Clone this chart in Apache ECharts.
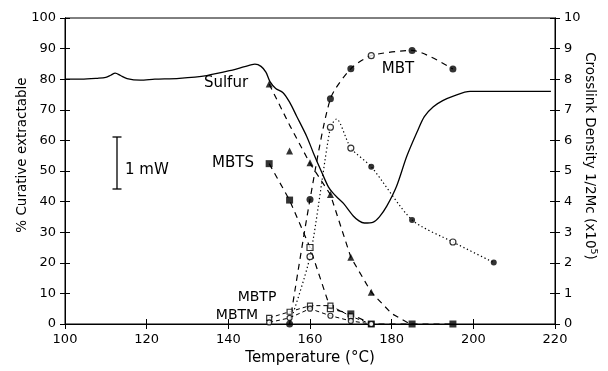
<!DOCTYPE html>
<html>
<head>
<meta charset="utf-8">
<script src="https://cdn.jsdelivr.net/npm/echarts@6/dist/echarts.min.js"></script>
<style>html,body{margin:0;padding:0;background:#fff}#c{width:608px;height:371px}</style>
</head>
<body>
<div id="c"></div>
<script>
// ---- data (temperature °C, value) ----
const xTicks = [100, 120, 140, 160, 180, 200, 220];
const leftTicks = [0,10,20,30,40,50,60,70,80,90,100];
const rightTicks = [0,1,2,3,4,5,6,7,8,9,10];

// DSC trace (plotted in left-axis units)
const dscTrace = [[100,80],[104,80],[108,80.3],[110,80.6],[111.2,81.3],[112.3,82],[113.6,81.2],[115.2,80.2],[118.4,79.7],[122,80],[128,80.3],[134.7,81.2],[141,83],[144,84.1],[146.5,84.9],[148,84.2],[149.2,82.3],[150.2,79.2],[151.6,77],[153.4,75.6],[155,72.5],[156.7,68],[159.2,61.3],[160.8,56],[162.9,49.5],[164.5,44.8],[165.5,43],[166.8,41.2],[168.2,39.4],[170.6,35.3],[172,33.7],[173.3,33],[175.5,33.3],[177,35],[178.8,38.5],[181.2,45],[183.7,54.8],[186.3,63],[188,67.8],[190.2,71],[192.5,73],[195.1,74.5],[199.2,76],[219,76]];

// Sulfur extractable (triangles, dashed)
const sulfurPts = [[150,78.4],[155,56.5],[160,52.7],[165,42.3],[170,21.8],[175,10.4]];
const sulfurLine = [[150,78.4],[155,65],[160,52.5],[165,42.3],[170,21.8],[175,10.4],[180,3.4],[184,0.4],[185,0]];

// MBT extractable (circles, dashed)
const mbtFilled = [[155,0],[160,40.7],[165,73.6],[170,83.4],[185,89.4],[195,83.3]];
const mbtOpen = [[175,87.7]];
const mbtLine = [[155,0],[160,40.7],[165,73.6],[170,83.4],[175,87.7],[185,89.4],[195,83.3]];

// MBTS extractable (squares, dashed)
const mbtsFilled = [[150,52.4],[155,40.5],[170,3.3],[175,0],[185,0],[195,0]];
const mbtsOpen = [[160,25],[165,5]];
const mbtsLine = [[150,52.4],[155,40.5],[160,25],[165,5],[170,3.3],[175,0],[185,0],[195,0]];

// MBTP and MBTM extractable
const mbtp = [[150,2],[155,4],[160,6],[165,6],[170,2.5],[175,0]];
const mbtm = [[150,0.5],[155,2],[160,5],[165,2.7],[170,1],[175,0]];

// Crosslink density 1/2Mc (x10^5), right axis
const xlinkLine = [[155,0],[160,2.2],[165,6.43],[166.5,6.7],[170,5.75],[175,5.14],[185,3.4],[195,2.68],[205,2.01]];
const xlinkOpen = [[160,2.2],[165,6.43],[170,5.75],[195,2.68]];
const xlinkFilled = [[175,5.14],[185,3.4],[205,2.01]];

const FONT = 'DejaVu Sans';
const chart = echarts.init(document.getElementById('c'), null, {renderer:'canvas'});

const axLine = {show:true, lineStyle:{color:'#000', width:1}};
const lab = {color:'#000', fontFamily:FONT, fontSize:13};

function xAx(inside, showLabel){
  return {type:'value', position:'bottom', min:xTicks[0], max:xTicks[xTicks.length-1], interval:20,
    axisLine:axLine, splitLine:{show:false},
    axisTick:{show:true, inside:inside, length:5, lineStyle:{color:'#000'}},
    axisLabel:Object.assign({show:showLabel, margin:9}, lab),
    name: showLabel ? 'Temperature (°C)' : '', nameLocation:'middle', nameGap:27,
    nameTextStyle:{color:'#000', fontFamily:FONT, fontSize:15}};
}
function yAx(pos, max, interval, inside, showLabel){
  return {type:'value', position:pos, min:0, max:max, interval:interval,
    axisLine:axLine, splitLine:{show:false},
    axisTick:{show:true, inside:inside, length:5, lineStyle:{color:'#000'}},
    axisLabel:Object.assign({show:showLabel, margin:9}, lab)};
}

const dashed = {color:'#000', width:1.2, type:[6,5]};
const dotted = {color:'#000', width:1.2, type:[1.3,2.6]};

function lineS(data, ls, yi, smooth){
  return {type:'line', data:data, yAxisIndex:yi, symbol:'none', lineStyle:ls, smooth:smooth||false, z:2, silent:true};
}
function pts(data, symbol, open, yi, size){
  return {type:'scatter', data:data, yAxisIndex:yi, symbol:symbol, symbolSize:size||7, z:5, silent:true,
    itemStyle: open ? {color:'#fff', borderColor:'#000', borderWidth:1.2} : {color:'#000'}};
}

const option = {
  animation:false,
  backgroundColor:'#fff',
  grid:{left:65, right:53, top:18, bottom:46, show:true, borderColor:'#000', borderWidth:1, backgroundColor:'transparent'},
  xAxis:[xAx(false,true), xAx(true,false)],
  yAxis:[yAx('left',100,10,false,true), yAx('left',100,10,true,false), yAx('right',10,1,false,true), yAx('right',10,1,true,false)],
  series:[
    lineS(dscTrace, {color:'#000', width:1.3}, 0, 0.3),
    lineS(sulfurLine, dashed, 0),
    lineS(mbtLine, dashed, 0, 0.25),
    lineS(mbtsLine, dashed, 0),
    lineS(mbtp, {color:'#000', width:1, type:[4,3]}, 0),
    lineS(mbtm, {color:'#000', width:1, type:[4,3]}, 0),
    lineS(xlinkLine, dotted, 2, 0.25),
    pts(sulfurPts, 'triangle', false, 0, 7),
    pts(mbtFilled, 'circle', false, 0, 7),
    pts(mbtOpen, 'circle', true, 0, 6),
    pts(mbtsFilled, 'rect', false, 0, 7),
    pts(mbtsOpen, 'rect', true, 0, 6),
    pts(mbtp, 'rect', true, 0, 5),
    pts(mbtm, 'circle', true, 0, 5),
    pts(xlinkOpen, 'circle', true, 2, 6),
    pts(xlinkFilled, 'circle', false, 2, 6)
  ],
  graphic:[
    {type:'text', left:'center', x:0, y:0, style:{}, invisible:true},
    {type:'text', x:22, y:155, rotation:Math.PI/2, style:{text:'% Curative extractable', fill:'#000', font:'13.5px "DejaVu Sans"', textAlign:'center', textVerticalAlign:'middle'}},
    {type:'text', x:589, y:156, rotation:-Math.PI/2, style:{
      text:'{a|Crosslink Density 1/2Mc (x10}{s|5}{a|)}', textAlign:'center', textVerticalAlign:'middle',
      rich:{a:{fontFamily:FONT, fontSize:13.5, fill:'#000', color:'#000'}, s:{fontFamily:FONT, fontSize:9.5, color:'#000', verticalAlign:'top', padding:[0,0,8,0]}}}},
    {type:'text', x:226, y:83, style:{text:'Sulfur', fill:'#000', font:'15px "DejaVu Sans"', textAlign:'center', textVerticalAlign:'middle'}},
    {type:'text', x:233, y:163, style:{text:'MBTS', fill:'#000', font:'15px "DejaVu Sans"', textAlign:'center', textVerticalAlign:'middle'}},
    {type:'text', x:398, y:69, style:{text:'MBT', fill:'#000', font:'15px "DejaVu Sans"', textAlign:'center', textVerticalAlign:'middle'}},
    {type:'text', x:257, y:297, style:{text:'MBTP', fill:'#000', font:'14px "DejaVu Sans"', textAlign:'center', textVerticalAlign:'middle'}},
    {type:'text', x:237, y:315, style:{text:'MBTM', fill:'#000', font:'14px "DejaVu Sans"', textAlign:'center', textVerticalAlign:'middle'}},
    {type:'line', shape:{x1:117, y1:137, x2:117, y2:189}, style:{stroke:'#000', lineWidth:1.3}},
    {type:'line', shape:{x1:112.5, y1:137, x2:121.5, y2:137}, style:{stroke:'#000', lineWidth:1.3}},
    {type:'line', shape:{x1:112.5, y1:189, x2:121.5, y2:189}, style:{stroke:'#000', lineWidth:1.3}},
    {type:'text', x:125, y:170, style:{text:'1 mW', fill:'#000', font:'15px "DejaVu Sans"', textAlign:'left', textVerticalAlign:'middle'}}
  ]
};
chart.setOption(option);
</script>
</body>
</html>
